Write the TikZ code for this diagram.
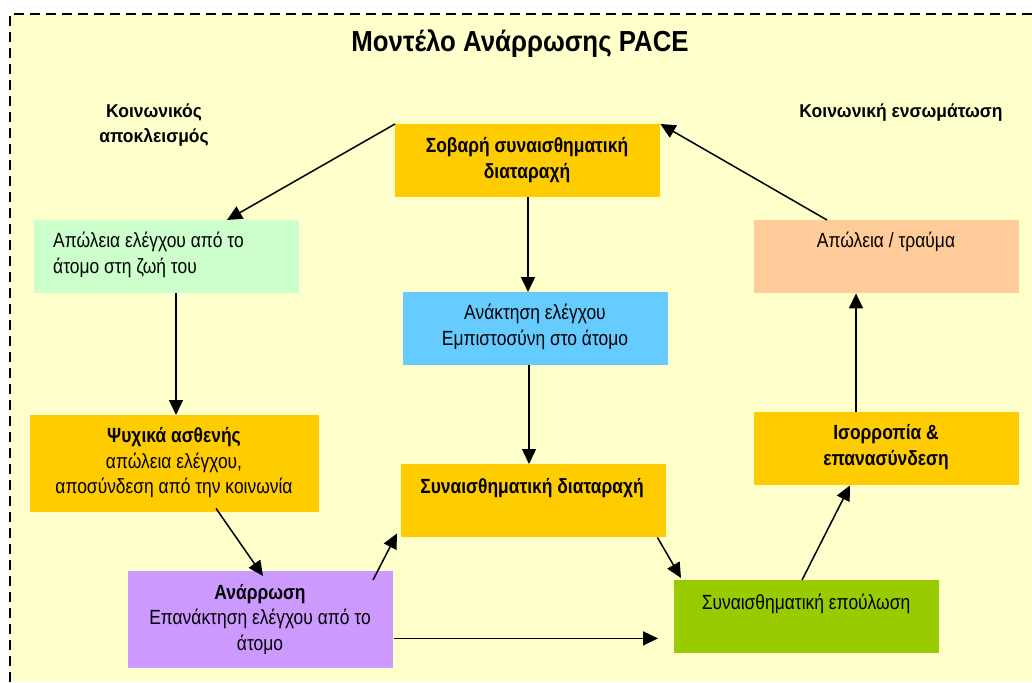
\documentclass[tikz,border=0pt]{standalone}
\usepackage{fontspec}
\setmainfont{Liberation Sans}
\newfontfamily\boxfont[FakeStretch=0.85]{Liberation Sans}
\newfontfamily\labfont[FakeStretch=0.94]{Liberation Sans}
\newfontfamily\titfont[FakeStretch=0.89]{Liberation Sans}
\usetikzlibrary{arrows.meta,calc}
\definecolor{bgY}{HTML}{FFFFCC}
\definecolor{orY}{HTML}{FFCC00}
\definecolor{grL}{HTML}{CCFFCC}
\definecolor{blL}{HTML}{66CCFF}
\definecolor{peL}{HTML}{FFCC99}
\definecolor{puL}{HTML}{CC99FF}
\definecolor{liG}{HTML}{99CC00}
\tikzset{
  boxr/.style={draw=none, inner sep=0pt, anchor=north west, minimum width=265pt, minimum height=73pt},
  txt/.style={inner sep=0pt, align=center, font=\boxfont\fontsize{20.5}{25.5}\selectfont},
  btxt/.style={txt, font=\boxfont\fontsize{20.5}{25.5}\selectfont\bfseries},
  lab/.style={inner sep=0pt, align=center, font=\labfont\fontsize{18.6}{25}\selectfont\bfseries},
  arr/.style={line width=1.5pt, -{Triangle[length=15pt,width=14pt]}},
}
\begin{document}
\begin{tikzpicture}[x=1pt,y=-1pt]
\useasboundingbox (0,0) rectangle (1032,682);
\fill[bgY] (10,14) rectangle (1032,682);
\draw[line width=2pt, dash pattern=on 10pt off 6pt] (10,682) -- (10,14) -- (1032,14);
\node[inner sep=0pt, font=\titfont\fontsize{29}{34}\selectfont\bfseries] (title) at (520,44) {Μοντέλο Ανάρρωσης PACE};
\node[lab] (lab1) at (154,125) {Κοινωνικός\\αποκλεισμός};
\node[lab] (lab2) at (901,113) {Κοινωνική ενσωμάτωση};
% boxes
\node[boxr, fill=orY] (b1) at (395,124) {};
\node[boxr, fill=grL] (b2) at (34,220) {};
\node[boxr, fill=blL] (b3) at (403,292) {};
\node[boxr, fill=peL] (b4) at (754,220) {};
\node[boxr, fill=orY, minimum width=289pt, minimum height=97pt] (b5) at (30,415) {};
\node[boxr, fill=puL, minimum height=97pt] (b6) at (128,571) {};
\node[boxr, fill=orY] (b7) at (401,464) {};
\node[boxr, fill=orY] (b8) at (754,412) {};
\node[boxr, fill=liG] (b9) at (674,580) {};
% texts
\node[btxt] (t1) at (527,160) {Σοβαρή συναισθηματική\\διαταραχή};
\node[txt, align=left, anchor=west] (t2) at (53,255) {Απώλεια ελέγχου από το\\άτομο στη ζωή του};
\node[txt] (t3) at (535,327) {Ανάκτηση ελέγχου\\Εμπιστοσύνη στο άτομο};
\node[txt] (t4) at (886,242) {Απώλεια / τραύμα};
\node[txt] (t5) at (174,463) {\textbf{Ψυχικά ασθενής}\\απώλεια ελέγχου,\\αποσύνδεση από την κοινωνία};
\node[txt] (t6) at (260,619) {\textbf{Ανάρρωση}\\Επανάκτηση ελέγχου από το\\άτομο};
\node[btxt] (t7) at (532,488) {Συναισθηματική διαταραχή};
\node[btxt] (t8) at (886,447) {Ισορροπία \&\\επανασύνδεση};
\node[txt] (t9) at (806,604) {Συναισθηματική επούλωση};
% arrows
\draw[arr] (b1.north west) -- ($(b2.north west)+(193,0)$);
\draw[arr] ($(b1.south west)+(133,0)$) -- ($(b3.north west)+(125,0)$);
\draw[arr] ($(b3.south west)+(126,0)$) -- ($(b7.north west)+(128,0)$);
\draw[arr] ($(b2.south west)+(142,0)$) -- ($(b5.north west)+(146,0)$);
\draw[arr] ($(b5.south west)+(186,-4)$) -- ($(b6.north west)+(135,5)$);
\draw[arr] ($(b6.north west)+(245,9)$) -- ($(b7.south west)+(-4,-4)$);
\draw[arr] ($(b6.south east)+(1,-30)$) -- ($(b9.south west)+(-16,-15)$);
\draw[arr] ($(b7.south east)+(-9,0)$) -- ($(b9.north west)+(7,-2)$);
\draw[arr] ($(b9.north west)+(128,0)$) -- ($(b8.south west)+(96,0)$);
\draw[arr] ($(b8.north west)+(102,0)$) -- ($(b4.south west)+(102,0)$);
\draw[arr] ($(b4.north west)+(73,0)$) -- (b1.north east);
\end{tikzpicture}
\end{document}
